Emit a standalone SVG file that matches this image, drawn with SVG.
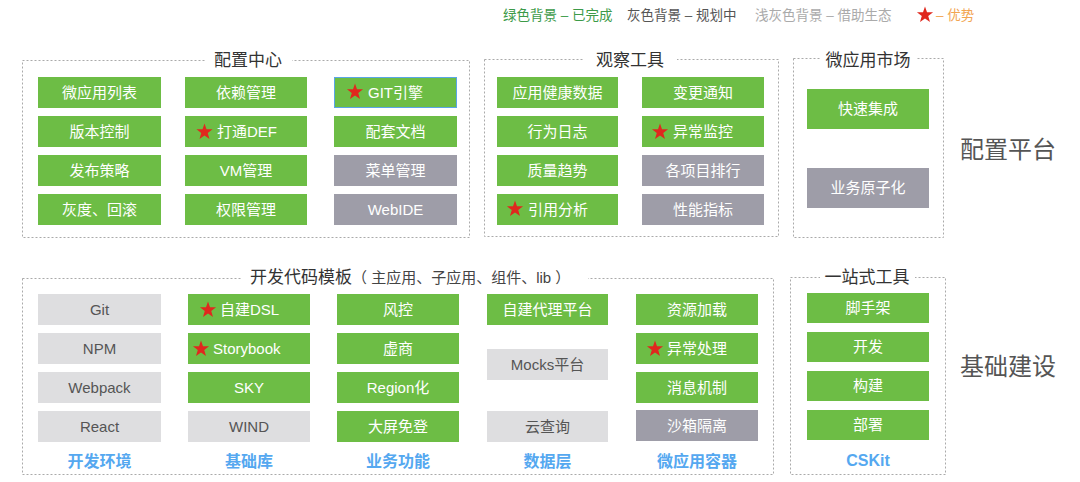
<svg xmlns="http://www.w3.org/2000/svg" width="1080" height="482" viewBox="0 0 1080 482">
<defs>
<style>
text{font-family:"Liberation Sans","Noto Sans CJK SC",sans-serif;}
.frame{fill:none;stroke:#aaaaaa;stroke-width:1;stroke-dasharray:2 2;}
.gap{fill:#ffffff;}
.g{fill:#6dbd45;}
.d{fill:#9e9da8;}
.l{fill:#dedee0;}
.tw{fill:#ffffff;font-size:15px;text-anchor:middle;}
.tws{fill:#ffffff;font-size:15px;}
.tl{fill:#555555;font-size:15px;text-anchor:middle;}
.title{fill:#333333;font-size:17px;text-anchor:middle;}
.big{fill:#555555;font-size:24px;}
.lab{fill:#55a8f0;font-size:16px;font-weight:bold;text-anchor:middle;}
.star{fill:#e0281e;}
</style>
<polygon id="st" points="0,-8.5 2,-2.75 8.08,-2.63 3.23,1.05 5,6.88 0,3.4 -5,6.88 -3.23,1.05 -8.08,-2.63 -2,-2.75"/>
</defs>
<rect width="1080" height="482" fill="#ffffff"/>

<g id="legend">
<text x="503" y="20" fill="#3c9a48" style="font-size:13.5px">绿色背景 – 已完成</text>
<text x="627" y="20" fill="#555555" style="font-size:13.5px">灰色背景 –  规划中</text>
<text x="755" y="20" fill="#aaaaaa" style="font-size:13.5px">浅灰色背景  –  借助生态</text>
<use href="#st" class="star" transform="translate(925,15)"/>
<text x="936" y="20" fill="#f2a552" style="font-size:13.5px">– 优势</text>
</g>

<g id="frames">
<rect class="frame" x="22.5" y="60.5" width="447" height="177"/>
<rect class="gap" x="205" y="50" width="87" height="20"/>
<text class="title" x="248" y="66">配置中心</text>
<rect class="frame" x="484.5" y="59.5" width="294" height="177"/>
<rect class="gap" x="584" y="49" width="93" height="20"/>
<text class="title" x="630" y="66">观察工具</text>
<rect class="frame" x="793.5" y="58.5" width="150" height="179"/>
<rect class="gap" x="820" y="48" width="97" height="20"/>
<text class="title" x="868" y="66">微应用市场</text>
<rect class="frame" x="22.5" y="278.5" width="751" height="196"/>
<rect class="gap" x="242" y="268" width="346" height="20"/>
<text x="250" y="283" fill="#333333" style="font-size:17px">开发代码模板<tspan style="font-size:15px" fill="#444444">（ 主应用、子应用、组件、lib ）</tspan></text>
<rect class="frame" x="790.5" y="277.5" width="155" height="197"/>
<rect class="gap" x="820" y="267" width="95" height="20"/>
<text class="title" x="867" y="283">一站式工具</text>
</g>

<g id="platform-labels">
<text class="big" x="960" y="158">配置平台</text>
<text class="big" x="960" y="375">基础建设</text>
</g>

<g id="config-center">
<g id="n-wyylb"><rect class="g" x="38" y="77" width="123" height="31"/><text class="tw" x="99.5" y="98">微应用列表</text></g>
<g id="n-bbkz"><rect class="g" x="38" y="116" width="123" height="31"/><text class="tw" x="99.5" y="137">版本控制</text></g>
<g id="n-fbcl"><rect class="g" x="38" y="155" width="123" height="31"/><text class="tw" x="99.5" y="176">发布策略</text></g>
<g id="n-hdhg"><rect class="g" x="38" y="194" width="123" height="31"/><text class="tw" x="99.5" y="215">灰度、回滚</text></g>
<g id="n-ylgl"><rect class="g" x="185" y="77" width="122" height="31"/><text class="tw" x="246" y="98">依赖管理</text></g>
<g id="n-dtdef"><rect class="g" x="185" y="116" width="122" height="31"/><use href="#st" class="star" transform="translate(204.5,132)"/><text class="tws" x="217" y="137">打通DEF</text></g>
<g id="n-vmgl"><rect class="g" x="185" y="155" width="122" height="31"/><text class="tw" x="246" y="176">VM管理</text></g>
<g id="n-qxgl"><rect class="g" x="185" y="194" width="122" height="31"/><text class="tw" x="246" y="215">权限管理</text></g>
<g id="n-git"><rect class="g" x="334.5" y="77.5" width="122" height="30" stroke="#5aa6e6" stroke-width="1"/><use href="#st" class="star" transform="translate(355,92)"/><text class="tws" x="368" y="98">GIT引擎</text></g>
<g id="n-ptwd"><rect class="g" x="334" y="116" width="123" height="31"/><text class="tw" x="395.5" y="137">配套文档</text></g>
<g id="n-cdgl"><rect class="d" x="334" y="155" width="123" height="31"/><text class="tw" x="395.5" y="176">菜单管理</text></g>
<g id="n-webide"><rect class="d" x="334" y="194" width="123" height="31"/><text class="tw" x="395.5" y="215">WebIDE</text></g>
</g>

<g id="observe-tools">
<g id="n-yyjksj"><rect class="g" x="497" y="77" width="121" height="31"/><text class="tw" x="557.5" y="98">应用健康数据</text></g>
<g id="n-xwrz"><rect class="g" x="497" y="116" width="121" height="31"/><text class="tw" x="557.5" y="137">行为日志</text></g>
<g id="n-zlqs"><rect class="g" x="497" y="155" width="121" height="31"/><text class="tw" x="557.5" y="176">质量趋势</text></g>
<g id="n-yyfx"><rect class="g" x="497" y="194" width="121" height="31"/><use href="#st" class="star" transform="translate(515,209)"/><text class="tws" x="528" y="215">引用分析</text></g>
<g id="n-bgtz"><rect class="g" x="642" y="77" width="122" height="31"/><text class="tw" x="703" y="98">变更通知</text></g>
<g id="n-ycjk"><rect class="g" x="642" y="116" width="122" height="31"/><use href="#st" class="star" transform="translate(660,132)"/><text class="tws" x="673" y="137">异常监控</text></g>
<g id="n-gxmph"><rect class="d" x="642" y="155" width="122" height="31"/><text class="tw" x="703" y="176">各项目排行</text></g>
<g id="n-xnzb"><rect class="d" x="642" y="194" width="122" height="31"/><text class="tw" x="703" y="215">性能指标</text></g>
</g>

<g id="market">
<g id="n-ksjc"><rect class="g" x="807" y="89" width="122" height="40"/><text class="tw" x="868" y="114">快速集成</text></g>
<g id="n-ywyzh"><rect class="d" x="807" y="168" width="122" height="40"/><text class="tw" x="868" y="193">业务原子化</text></g>
</g>

<g id="dev-env">
<g id="n-git2"><rect class="l" x="38" y="294" width="123" height="31"/><text class="tl" x="99.5" y="315">Git</text></g>
<g id="n-npm"><rect class="l" x="38" y="333" width="123" height="31"/><text class="tl" x="99.5" y="354">NPM</text></g>
<g id="n-webpack"><rect class="l" x="38" y="372" width="123" height="31"/><text class="tl" x="99.5" y="393">Webpack</text></g>
<g id="n-react"><rect class="l" x="38" y="411" width="123" height="31"/><text class="tl" x="99.5" y="432">React</text></g>
<text class="lab" x="99.5" y="467">开发环境</text>
</g>

<g id="base-lib">
<g id="n-dsl"><rect class="g" x="188" y="294" width="122" height="31"/><use href="#st" class="star" transform="translate(208,310)"/><text class="tws" x="220" y="315">自建DSL</text></g>
<g id="n-storybook"><rect class="g" x="188" y="333" width="122" height="31"/><use href="#st" class="star" transform="translate(201,349)"/><text class="tws" x="213" y="354">Storybook</text></g>
<g id="n-sky"><rect class="g" x="188" y="372" width="122" height="31"/><text class="tw" x="249" y="393">SKY</text></g>
<g id="n-wind"><rect class="l" x="188" y="411" width="122" height="31"/><text class="tl" x="249" y="432">WIND</text></g>
<text class="lab" x="249" y="467">基础库</text>
</g>

<g id="biz-func">
<g id="n-fk"><rect class="g" x="337" y="294" width="122" height="31"/><text class="tw" x="398" y="315">风控</text></g>
<g id="n-xs"><rect class="g" x="337" y="333" width="122" height="31"/><text class="tw" x="398" y="354">虚商</text></g>
<g id="n-region"><rect class="g" x="337" y="372" width="122" height="31"/><text class="tw" x="398" y="393">Region化</text></g>
<g id="n-dpmd"><rect class="g" x="337" y="411" width="122" height="31"/><text class="tw" x="398" y="432">大屏免登</text></g>
<text class="lab" x="398" y="467">业务功能</text>
</g>

<g id="data-layer">
<g id="n-zjdlpt"><rect class="g" x="487" y="294" width="121" height="31"/><text class="tw" x="547.5" y="315">自建代理平台</text></g>
<g id="n-mocks"><rect class="l" x="487" y="349" width="121" height="31"/><text class="tl" x="547.5" y="370">Mocks平台</text></g>
<g id="n-ycx"><rect class="l" x="487" y="411" width="121" height="31"/><text class="tl" x="547.5" y="432">云查询</text></g>
<text class="lab" x="547.5" y="467">数据层</text>
</g>

<g id="container">
<g id="n-zyjz"><rect class="g" x="636" y="294" width="122" height="31"/><text class="tw" x="697" y="315">资源加载</text></g>
<g id="n-yccl"><rect class="g" x="636" y="333" width="122" height="31"/><use href="#st" class="star" transform="translate(655,349)"/><text class="tws" x="667" y="354">异常处理</text></g>
<g id="n-xxjz"><rect class="g" x="636" y="372" width="122" height="31"/><text class="tw" x="697" y="393">消息机制</text></g>
<g id="n-sxgl"><rect class="d" x="636" y="410" width="122" height="31"/><text class="tw" x="697" y="431">沙箱隔离</text></g>
<text class="lab" x="697" y="467">微应用容器</text>
</g>

<g id="one-stop">
<g id="n-sjj"><rect class="g" x="807" y="293" width="122" height="30"/><text class="tw" x="868" y="313">脚手架</text></g>
<g id="n-kf"><rect class="g" x="807" y="332" width="122" height="30"/><text class="tw" x="868" y="352">开发</text></g>
<g id="n-gj"><rect class="g" x="807" y="371" width="122" height="30"/><text class="tw" x="868" y="391">构建</text></g>
<g id="n-bs"><rect class="g" x="807" y="410" width="122" height="30"/><text class="tw" x="868" y="430">部署</text></g>
<text class="lab" x="868" y="466">CSKit</text>
</g>

<g id="connectors"></g>
</svg>
